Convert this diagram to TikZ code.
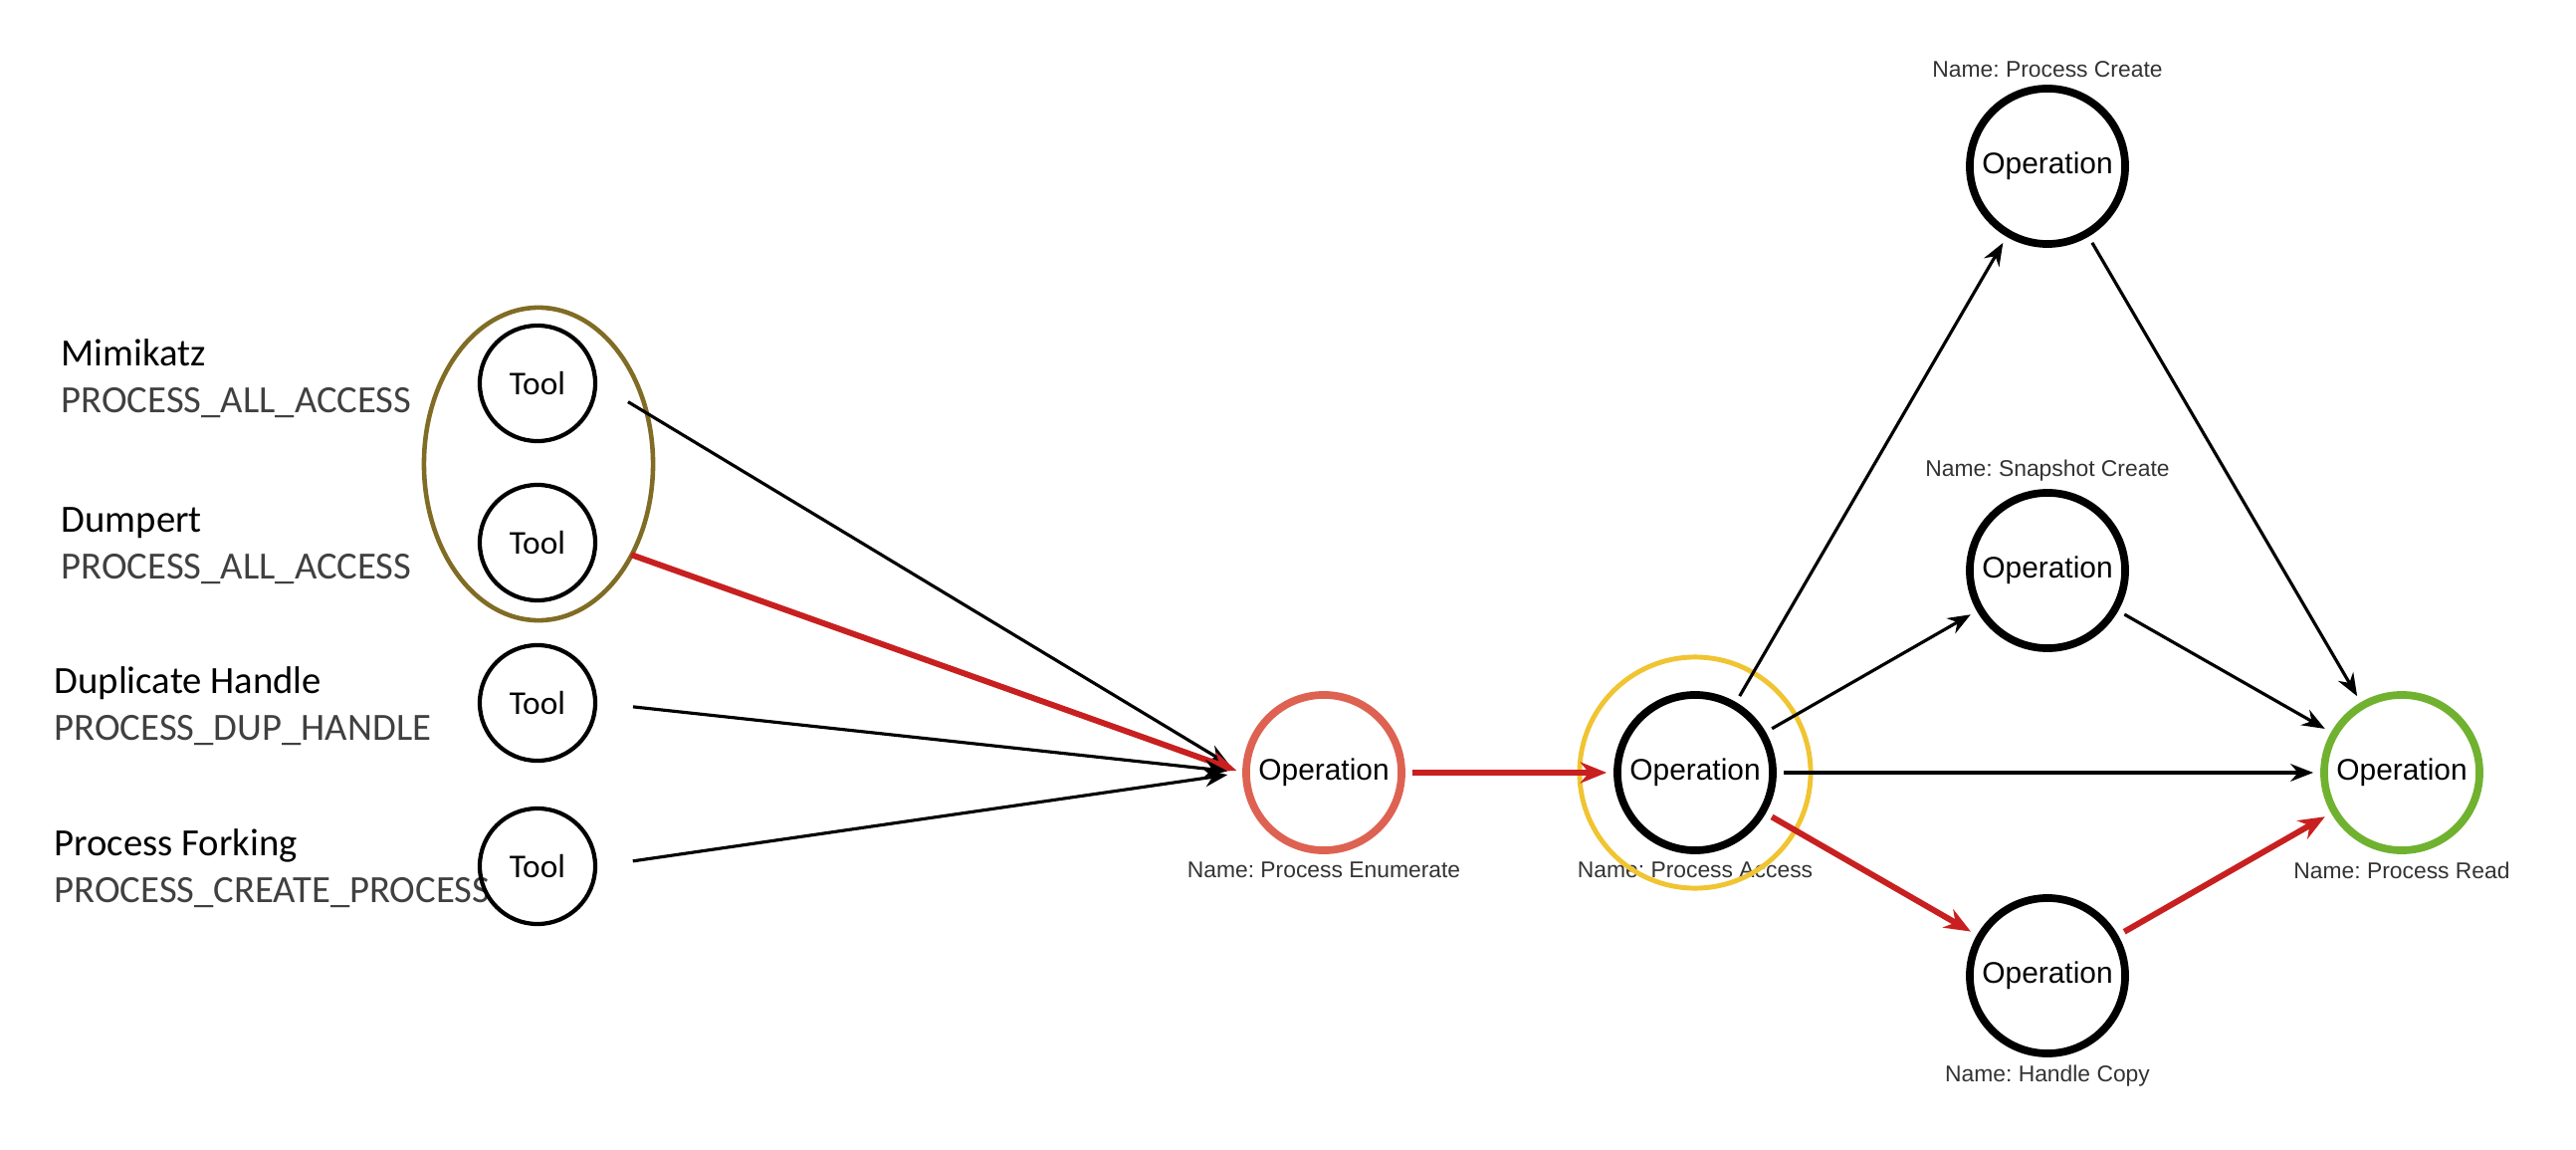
\documentclass[tikz,border=0pt]{standalone}
\usepackage{fontspec}
\setmainfont{Carlito}
\newfontfamily\helvfont{Liberation Sans}
\usetikzlibrary{positioning,shapes.geometric,arrows.meta}
\definecolor{redline}{RGB}{200,32,32}
\definecolor{enumred}{RGB}{222,98,82}
\definecolor{ringyellow}{RGB}{240,196,50}
\definecolor{groupolive}{RGB}{128,108,36}
\definecolor{readgreen}{RGB}{112,178,48}
\definecolor{capsgray}{RGB}{64,64,64}
\frenchspacing

\begin{document}
\begin{tikzpicture}[x=0.01cm,y=-0.01cm,
  >={Stealth[length=6.5pt,width=5pt]},
  tool/.style={draw,circle,line width=1.2pt,minimum size=1.16cm,inner sep=0pt,font=\fontsize{9.5}{11}\selectfont},
  op/.style={draw,circle,line width=2.2pt,minimum size=1.56cm,inner sep=0pt,font=\helvfont\fontsize{8.5}{10}\selectfont},
  opname/.style={inner sep=1pt,text=black!80,font=\helvfont\fontsize{6.5}{8}\selectfont},
  toolname/.style={anchor=west,align=left,inner sep=0pt,font=\fontsize{11}{13.4}\selectfont},
  edge/.style={->,line width=0.9pt,shorten <=2pt,shorten >=2pt},
  hot/.style={edge,color=redline,line width=1.7pt,>={Stealth[length=7.5pt,width=6pt]}}]
\useasboundingbox (0,0) rectangle (2588,1155);

% tools on the left
\node[toolname](mimi)at(61,380){Mimikatz\\{\color{capsgray}PROCESS\_ALL\_ACCESS}};
\node[toolname](dump)at(61,548){Dumpert\\{\color{capsgray}PROCESS\_ALL\_ACCESS}};
\node[toolname](dup)at(54,709){Duplicate Handle\\{\color{capsgray}PROCESS\_DUP\_HANDLE}};
\node[toolname](fork)at(54,872){Process Forking\\{\color{capsgray}PROCESS\_CREATE\_PROCESS}};
\node[tool](tool1)at(540,385){Tool};
\node[tool](tool2)at(540,545){Tool};
\node[tool](tool3)at(540,706){Tool};
\node[tool](tool4)at(540,870){Tool};
\node[draw=groupolive,ellipse,line width=1.3pt,minimum width=2.3cm,minimum height=3.14cm](group)at(541,466){};

% operations
\node[op,draw=enumred](enum)at(1330,776){Operation};
\node[op](access)at(1703,776){Operation};
\node[op](create)at(2057,167){Operation};
\node[op](snap)at(2057,573){Operation};
\node[op](copy)at(2057,980){Operation};
\node[op,draw=readgreen](read)at(2413,776){Operation};

\node[opname,below=1pt of enum](enumlbl){Name: Process Enumerate};
\node[opname,below=1pt of access](accesslbl){Name: Process Access};
\node[opname,above=1pt of create](createlbl){Name: Process Create};
\node[opname,above=1pt of snap](snaplbl){Name: Snapshot Create};
\node[opname,below=1pt of copy](copylbl){Name: Handle Copy};
\node[opname,below=1pt of read](readlbl){Name: Process Read};
\node[draw=ringyellow,circle,line width=1.4pt,minimum size=2.32cm](ring)at(access){};

% connectors
\draw[edge,shorten <=0.36cm,shorten >=0.15cm](tool1.east)--(enum.west);
\draw[hot,shorten <=0.36cm,shorten >=0.06cm](tool2.east)--(enum.west);
\draw[edge,shorten <=0.36cm,shorten >=0.15cm](tool3.east)--(enum.west);
\draw[edge,shorten <=0.36cm,shorten >=0.15cm](tool4.east)--(enum.west);
\draw[hot](enum)--(access);
\draw[edge](access)--(create);
\draw[edge](access)--(snap);
\draw[edge](access)--(read);
\draw[hot](access)--(copy);
\draw[edge](create)--(read);
\draw[edge](snap)--(read);
\draw[hot](copy)--(read);
\end{tikzpicture}
\end{document}
